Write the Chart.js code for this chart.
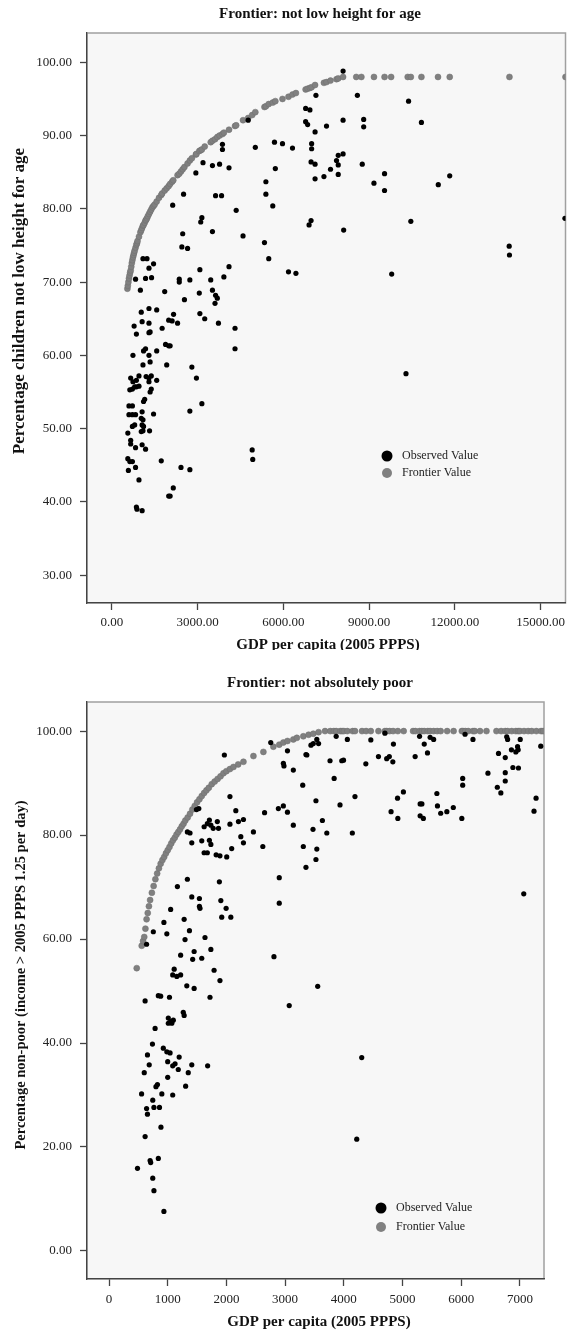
<!DOCTYPE html>
<html>
<head>
<meta charset="utf-8">
<title>Frontier charts</title>
<script src="https://cdn.jsdelivr.net/npm/chart.js@4.4.1/dist/chart.umd.min.js"></script>
<style>
  html, body { margin: 0; padding: 0; background: #fff; }
  .box { position: relative; width: 570px; }
  #box1 { height: 650px; }
  #box2 { height: 684px; }
</style>
</head>
<body>
<div class="box" id="box1"><canvas id="chart1"></canvas></div>
<div class="box" id="box2"><canvas id="chart2"></canvas></div>
<script>
// ---- chart 1: not low height for age ----
const gdpObserved1 = [
  4770, 3870, 3870, 5020, 5690, 5970, 6320, 3190, 3520, 3770, 4100, 2940, 5720, 2510, 2130, 3630,
  3840, 4350, 5390, 5630, 5390, 3150, 3110, 2480, 3520, 4590, 2450, 2650, 5340, 5490, 1090, 1230,
  1300, 1460, 3080, 4100, 830, 1180, 1390, 2360, 2360, 2730, 3460, 3920, 1000, 1850, 3060, 3520,
  3630, 3690, 3610, 2540, 6180, 6440, 1030, 1300, 1570, 2160, 1990, 2110, 2300, 3080, 3250, 3730,
  780, 1060, 1300, 1760, 4310,
  4310, 860, 1300, 1340, 740, 1110, 1180, 1300, 1340, 1570, 1880, 1990, 2040, 1920, 1090, 2800,
  660, 740, 860, 950, 630, 720, 800, 860, 950, 1200, 1300, 1380, 1300, 1570, 1340, 1380, 2960,
  1110, 1150, 600, 720, 3150, 600, 720, 830, 1060, 1460, 2730, 1030, 1090, 720, 800, 1060, 1110,
  560, 1030, 1090, 1320, 660, 660, 830, 1060, 1180, 4910, 4930, 560, 630, 720, 1730, 580, 830,
  2420, 2730, 950, 1990, 2040, 2150, 860, 880, 1060,
  8090, 8590, 10380, 7140, 6780, 6930, 6780, 6850, 7110, 7510, 8090, 8810, 8810, 10830, 6990, 6990,
  6970, 7110, 8090, 7920, 7860, 7920, 7650, 7420, 7110, 7920, 8760, 9170, 9540, 9540, 11420, 11820,
  6970, 6900, 8110, 10460, 15850, 13900, 13910, 9790, 10290
];
const pctObserved1 = [
  92.1, 88.8, 88.1, 88.4, 89.1, 88.9, 88.3, 86.3, 85.9, 86.1, 85.6, 84.9, 85.5, 82.0, 80.5, 81.8,
  81.8, 79.8, 82.0, 80.4, 83.7, 78.8, 78.2, 76.6, 76.9, 76.3, 74.8, 74.6, 75.4, 73.2, 73.2, 73.2,
  71.9, 72.5, 71.7, 72.1, 70.4, 70.5, 70.6, 70.4, 70.0, 70.3, 70.3, 70.7, 68.9, 68.7, 68.5, 68.9,
  68.2, 67.8, 67.1, 67.6, 71.4, 71.2, 65.9, 66.4, 66.2, 65.6, 64.8, 64.7, 64.4, 65.7, 65.0, 64.4,
  64.0, 64.6, 64.4, 63.7, 63.7,
  60.9, 62.9, 63.1, 63.2, 60.0, 60.6, 60.9, 60.0, 59.1, 60.6, 61.5, 61.3, 61.3, 58.7, 58.7, 58.4,
  56.9, 56.4, 56.6, 57.2, 55.3, 55.4, 55.7, 55.7, 55.8, 57.1, 56.9, 57.2, 56.4, 56.6, 55.0, 55.4, 56.9,
  53.7, 54.0, 53.1, 53.1, 53.4, 51.9, 51.9, 51.9, 52.3, 52.0, 52.4, 51.4, 51.2, 50.3, 50.5, 50.5, 50.3,
  49.4, 49.6, 49.7, 49.7, 48.4, 47.9, 47.4, 47.8, 47.2, 47.1, 45.8, 45.9, 45.5, 45.5, 45.6, 44.3, 44.7,
  44.7, 44.4, 43.0, 40.8, 40.8, 41.9, 39.3, 39.0, 38.8,
  98.8, 95.5, 94.7, 95.5, 93.7, 93.5, 91.9, 91.5, 90.5, 91.3, 92.1, 92.2, 91.2, 91.8, 88.9, 88.2,
  86.4, 86.1, 87.5, 87.3, 86.6, 86.0, 85.4, 84.4, 84.1, 84.7, 86.1, 83.5, 84.8, 82.5, 83.3, 84.5,
  78.4, 77.8, 77.1, 78.3, 78.7, 74.9, 73.7, 71.1, 57.5
];
const gdpFrontier1 = [
  545, 560, 580, 600, 620, 640, 660, 680, 700, 720, 740, 760, 780, 800, 830, 860, 880, 900, 950, 1000,
  1030, 1060, 1090, 1110, 1150, 1180, 1200, 1230, 1260, 1300, 1340, 1380, 1420, 1460, 1500, 1570, 1650,
  1730, 1760, 1850, 1920, 1990, 2040, 2110, 2150, 2300, 2360, 2420, 2480, 2540, 2650, 2730, 2800, 2940,
  2960, 3060, 3110, 3150, 3250, 3460, 3520, 3610, 3690, 3770, 3870, 3920, 4100, 4310, 4350, 4590, 4770,
  4910, 5020, 5340, 5390, 5490, 5630, 5720, 5970, 6180, 6320, 6440, 6780, 6850, 6930, 6990, 7110, 7420,
  7510, 7650, 7860, 7920, 8090,
  8550, 8730, 9170, 9540, 9770, 10350, 10460, 10830, 11410, 11820, 13910, 15870
];
const pctFrontier1 = [
  69.1, 69.5, 70.0, 70.5, 70.9, 71.3, 71.6, 72.1, 72.6, 73.0, 73.4, 73.7, 74.0, 74.3, 74.7, 75.1, 75.3, 75.6, 76.2, 76.8,
  77.1, 77.4, 77.7, 77.8, 78.1, 78.4, 78.5, 78.7, 79.0, 79.3, 79.6, 79.9, 80.2, 80.4, 80.6, 81.0, 81.5,
  81.9, 82.1, 82.5, 82.8, 83.1, 83.4, 83.7, 83.9, 84.6, 84.8, 85.1, 85.4, 85.7, 86.2, 86.6, 86.9, 87.4,
  87.5, 87.9, 88.0, 88.1, 88.5, 89.1, 89.3, 89.5, 89.8, 90.0, 90.2, 90.4, 90.8, 91.3, 91.4, 92.1, 92.4,
  92.8, 93.2, 93.9, 94.0, 94.3, 94.5, 94.7, 95.0, 95.3, 95.6, 95.8, 96.3, 96.4, 96.5, 96.6, 96.9, 97.2,
  97.3, 97.5, 97.7, 97.8, 98.0,
  98.0, 98.0, 98.0, 98.0, 98.0, 98.0, 98.0, 98.0, 98.0, 98.0, 98.0, 98.0
];
const xTicks1 = [0, 3000, 6000, 9000, 12000, 15000];
const yTicks1 = [30, 40, 50, 60, 70, 80, 90, 100];

// ---- chart 2: not absolutely poor ----
const gdpObserved2 = [
  1965, 2755, 3040, 2970, 2980, 3140, 2060, 2160, 1490, 1530, 2650, 2885, 2970, 3040, 3140, 1710,
  1675, 1735, 1620, 1845, 1865, 1775, 2060, 2205, 2290, 1335, 1380, 2460, 1410, 1580, 1710, 1735,
  2245, 2290, 2620, 1620, 1675, 1825, 1890, 2005, 2090, 1335, 1165, 1880, 2900, 1410, 1540, 1540,
  1550, 1905, 1995, 1050, 1920, 2075, 2900, 935, 1280, 1370, 985, 755, 1295, 1635, 640, 1220, 1450,
  1425, 1580, 1735, 2810, 1110, 1085, 1155, 1220, 1790, 1890, 1325, 1450,
  3540, 3480, 3570, 3440, 3870, 4060, 4460, 4700, 4845, 5290, 5370, 5470, 5530, 5425, 5215, 6065,
  6200, 6775, 6790, 7005, 6960, 6970, 6855, 6930, 6635, 6750, 7355, 3355, 3370, 3765, 3965, 3995,
  4375, 4590, 4730, 4775, 4835, 3835, 3300, 3525, 3935, 4190, 4915, 5015, 5585, 5595, 6025, 6025,
  6455, 6750, 6750, 6880, 6975, 6615, 6675, 7275, 7240, 4805, 4920, 5300, 5330, 5300, 5355, 5650,
  5755, 5865, 6010, 3475, 3635, 3710, 4145, 3310, 3540, 3525, 3355, 7065, 3555,
  615, 840, 880, 1030, 1720, 3070, 1265, 1280, 1010, 1050, 1095, 1070, 1010, 785, 740, 655, 685,
  600, 925, 985, 1040, 800, 825, 1000, 1085, 1125, 1195, 1180, 1410, 1350, 1680, 1000, 1305, 900,
  1085, 555, 745, 640, 765, 860, 655, 885, 615, 840, 700, 710, 485, 745, 765, 935, 4305, 4220
];
const pctObserved2 = [
  95.4, 97.8, 96.2, 93.8, 93.3, 92.5, 87.4, 84.7, 84.9, 85.1, 84.3, 85.1, 85.6, 84.4, 81.9, 82.9,
  82.2, 81.9, 81.6, 82.6, 81.3, 81.3, 82.1, 82.6, 83.0, 80.6, 80.4, 80.6, 78.5, 78.9, 79.0, 78.2,
  79.7, 78.5, 77.8, 76.6, 76.6, 76.2, 76.0, 75.8, 77.4, 71.5, 70.1, 71.0, 71.8, 68.1, 67.8, 66.3,
  65.9, 67.4, 65.9, 65.7, 64.2, 64.2, 66.9, 63.2, 63.8, 61.6, 61.0, 61.4, 59.9, 60.3, 59.0, 56.9, 57.6,
  56.1, 56.3, 58.0, 56.6, 54.2, 53.1, 52.8, 53.1, 54.0, 52.0, 51.0, 50.5,
  98.4, 97.6, 97.6, 97.3, 99.0, 98.4, 98.3, 99.6, 97.5, 99.0, 97.5, 98.8, 98.4, 95.8, 95.1, 99.4,
  98.4, 98.9, 98.4, 98.4, 97.0, 96.4, 96.4, 96.0, 95.7, 94.9, 97.1, 95.5, 95.4, 94.3, 94.3, 94.4,
  93.7, 95.1, 94.7, 95.1, 94.1, 90.9, 89.6, 86.6, 85.8, 87.4, 87.1, 88.3, 88.0, 85.6, 90.9, 89.6,
  91.9, 92.0, 90.4, 93.0, 92.9, 89.2, 88.1, 87.1, 84.6, 84.5, 83.2, 86.0, 86.0, 83.7, 83.2, 84.2,
  84.5, 85.3, 83.2, 81.1, 82.8, 80.4, 80.4, 77.8, 77.3, 75.3, 73.8, 68.7, 50.9,
  48.1, 49.1, 49.0, 48.8, 48.8, 47.2, 45.9, 45.3, 44.8, 44.1, 44.4, 43.8, 43.8, 42.8, 39.8, 37.7, 35.8,
  34.3, 39.0, 38.3, 38.1, 31.6, 32.0, 36.4, 35.6, 36.0, 37.3, 34.9, 35.8, 34.3, 35.6, 33.4, 31.7, 30.2,
  30.0, 30.2, 29.0, 27.4, 27.6, 27.6, 26.3, 23.8, 22.0, 17.8, 17.4, 17.0, 15.9, 14.0, 11.6, 7.6, 37.2, 21.5
];
const gdpFrontier2 = [
  472, 557, 580, 600, 620, 640, 660, 680, 700, 730, 760, 790, 820, 850, 880, 910, 940, 970, 1000, 1030,
  1060, 1090, 1120, 1150, 1180, 1210, 1240, 1270, 1300, 1340, 1380, 1420, 1460, 1500, 1540, 1580, 1620,
  1660, 1700, 1750, 1800, 1850, 1900, 1950, 2000, 2060, 2120, 2200, 2290, 2460, 2630, 2800, 2900, 2970,
  3040, 3140, 3200, 3310, 3400, 3480, 3570, 3680,
  3770, 3830, 3870, 3940, 3970, 4000, 4060, 4150, 4190, 4310, 4380, 4460, 4590, 4700, 4730, 4780, 4840,
  4920, 5020, 5180, 5220, 5290, 5330, 5370, 5430, 5470, 5530, 5590, 5650, 5760, 5870, 6010, 6030, 6070,
  6120, 6200, 6230, 6320, 6430, 6600, 6680, 6750, 6790, 6860, 6930, 6970, 7000, 7070, 7140, 7200, 7280,
  7360, 7395
];
const pctFrontier2 = [
  54.4, 58.7, 59.6, 60.4, 62.0, 63.8, 65.0, 66.3, 67.5, 68.9, 70.2, 71.5, 72.6, 73.6, 74.5, 75.2, 75.8, 76.5, 77.1, 77.7,
  78.4, 79.0, 79.5, 80.1, 80.6, 81.1, 81.7, 82.2, 82.8, 83.4, 84.1, 84.9, 85.6, 86.3, 86.9, 87.5, 88.1,
  88.6, 89.1, 89.8, 90.3, 90.8, 91.3, 91.9, 92.3, 92.7, 93.1, 93.6, 94.1, 95.2, 96.0, 97.0, 97.4, 97.8,
  98.1, 98.4, 98.7, 99.0, 99.3, 99.5, 99.8, 100.0,
  100, 100, 100, 100, 100, 100, 100, 100, 100, 100, 100, 100, 100, 100, 100, 100, 100,
  100, 100, 100, 100, 100, 100, 100, 100, 100, 100, 100, 100, 100, 100, 100, 100, 100,
  100, 100, 100, 100, 100, 100, 100, 100, 100, 100, 100, 100, 100, 100, 100, 100, 100,
  100, 100
];
const xTicks2 = [0, 1000, 2000, 3000, 4000, 5000, 6000, 7000];
const yTicks2 = [0, 20, 40, 60, 80, 100];

const SERIF = '"Liberation Serif", "Times New Roman", serif';
Chart.defaults.font.family = SERIF;

const toPoints = (xs, ys) => xs.map((x, i) => ({ x: x, y: ys[i] }));

// plot background, frame, titles and the in-plot legend
const frame = {
  id: 'frame',
  beforeDraw(chart, args, o) {
    const { ctx, chartArea: a } = chart;
    ctx.save();
    ctx.fillStyle = '#f7f7f7';
    ctx.fillRect(a.left, a.top, a.right - a.left, a.bottom - a.top);
    ctx.strokeStyle = '#a0a0a0';
    ctx.lineWidth = 1.5;
    ctx.strokeRect(a.left, a.top, a.right - a.left, a.bottom - a.top);
    ctx.restore();
  },
  afterDraw(chart, args, o) {
    const ctx = chart.ctx;
    ctx.save();
    ctx.fillStyle = '#111';
    ctx.textAlign = 'center';
    ctx.textBaseline = 'middle';
    ctx.font = 'bold 15px ' + SERIF;
    ctx.fillText(o.title, o.titleX, o.titleY);
    ctx.fillText(o.xTitle, o.xTitleX, o.xTitleY);
    ctx.save();
    ctx.translate(o.yTitleX, o.yTitleY);
    ctx.rotate(-Math.PI / 2);
    ctx.font = 'bold ' + o.yTitleSize + 'px ' + SERIF;
    ctx.fillText(o.yTitle, 0, 0);
    ctx.restore();

    // legend
    const items = [
      { label: 'Observed Value', color: '#000', r: 5.5 },
      { label: 'Frontier Value', color: '#808080', r: 5 }
    ];
    ctx.font = '12px ' + SERIF;
    ctx.textAlign = 'left';
    items.forEach((it, i) => {
      const y = o.legendY + i * o.legendGap;
      ctx.beginPath();
      ctx.fillStyle = it.color;
      ctx.arc(o.legendX, y, it.r, 0, Math.PI * 2);
      ctx.fill();
      ctx.fillStyle = '#222';
      ctx.fillText(it.label, o.legendX + 15, y);
    });
    ctx.restore();
  }
};

function makeChart(id, cfg) {
  const axisFit = (width, height) => (scale) => {
    if (width) scale.width = width;
    if (height) scale.height = height;
    scale.paddingLeft = 0; scale.paddingRight = 0;
    scale.paddingTop = 0; scale.paddingBottom = 0;
  };
  return new Chart(document.getElementById(id), {
    type: 'scatter',
    data: {
      datasets: [{
        label: 'Observed Value',
        data: toPoints(cfg.gdpObs, cfg.pctObs),
        backgroundColor: '#000',
        borderWidth: 0,
        pointRadius: 2.6,
        clip: 0
      }, {
        label: 'Frontier Value',
        data: toPoints(cfg.gdpFront, cfg.pctFront),
        backgroundColor: '#808080',
        borderColor: '#6e6e6e',
        borderWidth: 0.5,
        pointRadius: 3,
        clip: 0
      }]
    },
    plugins: [frame],
    options: {
      responsive: true,
      maintainAspectRatio: false,
      animation: false,
      events: [],
      layout: { padding: cfg.padding },
      scales: {
        x: {
          type: 'linear',
          min: cfg.xMin, max: cfg.xMax,
          afterBuildTicks: (axis) => { axis.ticks = cfg.xTicks.map(v => ({ value: v })); },
          afterFit: axisFit(0, cfg.xHeight),
          ticks: {
            color: '#222', font: { size: 13 }, padding: cfg.xPad, maxRotation: 0, autoSkip: false,
            callback: cfg.xFormat
          },
          grid: { display: true, drawOnChartArea: false, drawTicks: true, tickLength: 7, tickColor: '#444', tickWidth: 1.3 },
          border: { display: true, color: '#444', width: 1.3 }
        },
        y: {
          type: 'linear',
          min: cfg.yMin, max: cfg.yMax,
          afterBuildTicks: (axis) => { axis.ticks = cfg.yTicks.map(v => ({ value: v })); },
          afterFit: axisFit(87, 0),
          ticks: {
            color: '#222', font: { size: 13 }, padding: 8, autoSkip: false,
            callback: (v) => Number(v).toFixed(2)
          },
          grid: { display: true, drawOnChartArea: false, drawTicks: true, tickLength: 7, tickColor: '#444', tickWidth: 1.3 },
          border: { display: true, color: '#444', width: 1.3 }
        }
      },
      plugins: {
        legend: { display: false },
        tooltip: { enabled: false },
        frame: cfg.frame
      }
    }
  });
}

makeChart('chart1', {
  gdpObs: gdpObserved1, pctObs: pctObserved1,
  gdpFront: gdpFrontier1, pctFront: pctFrontier1,
  xTicks: xTicks1, yTicks: yTicks1,
  xMin: -868, xMax: 15870, yMin: 26.2, yMax: 104.0,
  padding: { top: 33, right: 1, left: 0, bottom: 0 },
  xHeight: 47, xPad: 5,
  xFormat: (v) => Number(v).toFixed(2),
  frame: {
    title: 'Frontier: not low height for age', titleX: 320, titleY: 14,
    xTitle: 'GDP per capita (2005 PPPS)', xTitleX: 328, xTitleY: 645,
    yTitle: 'Percentage children not low height for age', yTitleX: 20, yTitleY: 301, yTitleSize: 17,
    legendX: 387, legendY: 456, legendGap: 17
  }
});

makeChart('chart2', {
  gdpObs: gdpObserved2, pctObs: pctObserved2,
  gdpFront: gdpFrontier2, pctFront: pctFrontier2,
  xTicks: xTicks2, yTicks: yTicks2,
  xMin: -375, xMax: 7410, yMin: -5.4, yMax: 105.6,
  padding: { top: 52, right: 26, left: 0, bottom: 0 },
  xHeight: 55, xPad: 6,
  xFormat: (v) => String(v),
  frame: {
    title: 'Frontier: not absolutely poor', titleX: 320, titleY: 33,
    xTitle: 'GDP per capita (2005 PPPS)', xTitleX: 319, xTitleY: 672,
    yTitle: 'Percentage non-poor (income > 2005 PPPS 1.25 per day)', yTitleX: 21, yTitleY: 325, yTitleSize: 14.5,
    legendX: 381, legendY: 558, legendGap: 19
  }
});
</script>
</body>
</html>
